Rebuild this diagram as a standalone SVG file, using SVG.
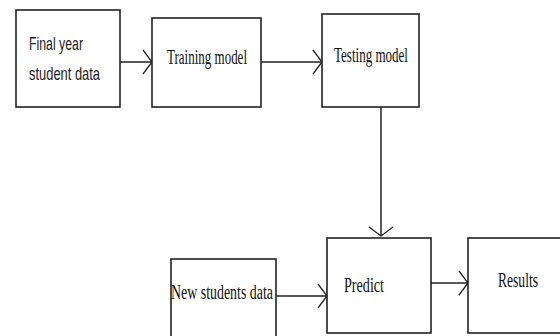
<svg xmlns="http://www.w3.org/2000/svg" width="560" height="336" viewBox="0 0 560 336">
<style>
.box{fill:#fff;stroke:#222;stroke-width:1.6}
.serif{font-family:"Liberation Serif","Times New Roman",serif;font-size:20px;fill:#111}
.sans{font-family:"Liberation Sans","Carlito",Arial,sans-serif;font-size:19px;fill:#222}
.conn{stroke:#222;stroke-width:1.5;fill:none;marker-end:url(#arr)}
</style>
<defs>
<marker id="arr" markerUnits="userSpaceOnUse" viewBox="-11 -13 12 26" refX="0" refY="0" markerWidth="12" markerHeight="26" orient="auto">
<path d="M-9,-12 L0,0 L-9,12" fill="none" stroke="#222" stroke-width="1.3"/>
</marker>
</defs>
<rect width="560" height="336" fill="#fff"/>
<g id="connectors">
<line class="conn" x1="120" y1="62" x2="152" y2="62"/>
<line class="conn" x1="261" y1="62" x2="322" y2="62"/>
<line class="conn" x1="381" y1="107" x2="381" y2="236"/>
<line class="conn" x1="276" y1="296" x2="327" y2="296"/>
<line class="conn" x1="431" y1="283" x2="468" y2="283"/>
</g>
<g id="final-year">
<rect class="box" x="16" y="10" width="104" height="97"/>
<text class="sans" x="29" y="50" textLength="54" lengthAdjust="spacingAndGlyphs">Final year</text>
<text class="sans" x="29" y="80" textLength="71" lengthAdjust="spacingAndGlyphs">student data</text>
</g>
<g id="training">
<rect class="box" x="152" y="18" width="109" height="89"/>
<text class="serif" x="167" y="64" font-size="19" textLength="80" lengthAdjust="spacingAndGlyphs">Training model</text>
</g>
<g id="testing">
<rect class="box" x="322" y="14" width="97" height="93"/>
<text class="serif" x="334" y="62" textLength="74" lengthAdjust="spacingAndGlyphs">Testing model</text>
</g>
<g id="new-students">
<rect class="box" x="171" y="259" width="105" height="90"/>
<text class="serif" x="171" y="299" font-size="18" textLength="102" lengthAdjust="spacingAndGlyphs">New students data</text>
</g>
<g id="predict">
<rect class="box" x="327" y="238" width="104" height="95"/>
<text class="serif" x="344" y="292" textLength="40" lengthAdjust="spacingAndGlyphs">Predict</text>
</g>
<g id="results">
<rect class="box" x="468" y="238" width="100" height="95"/>
<text class="serif" x="498" y="287" textLength="40" lengthAdjust="spacingAndGlyphs">Results</text>
</g>
</svg>
